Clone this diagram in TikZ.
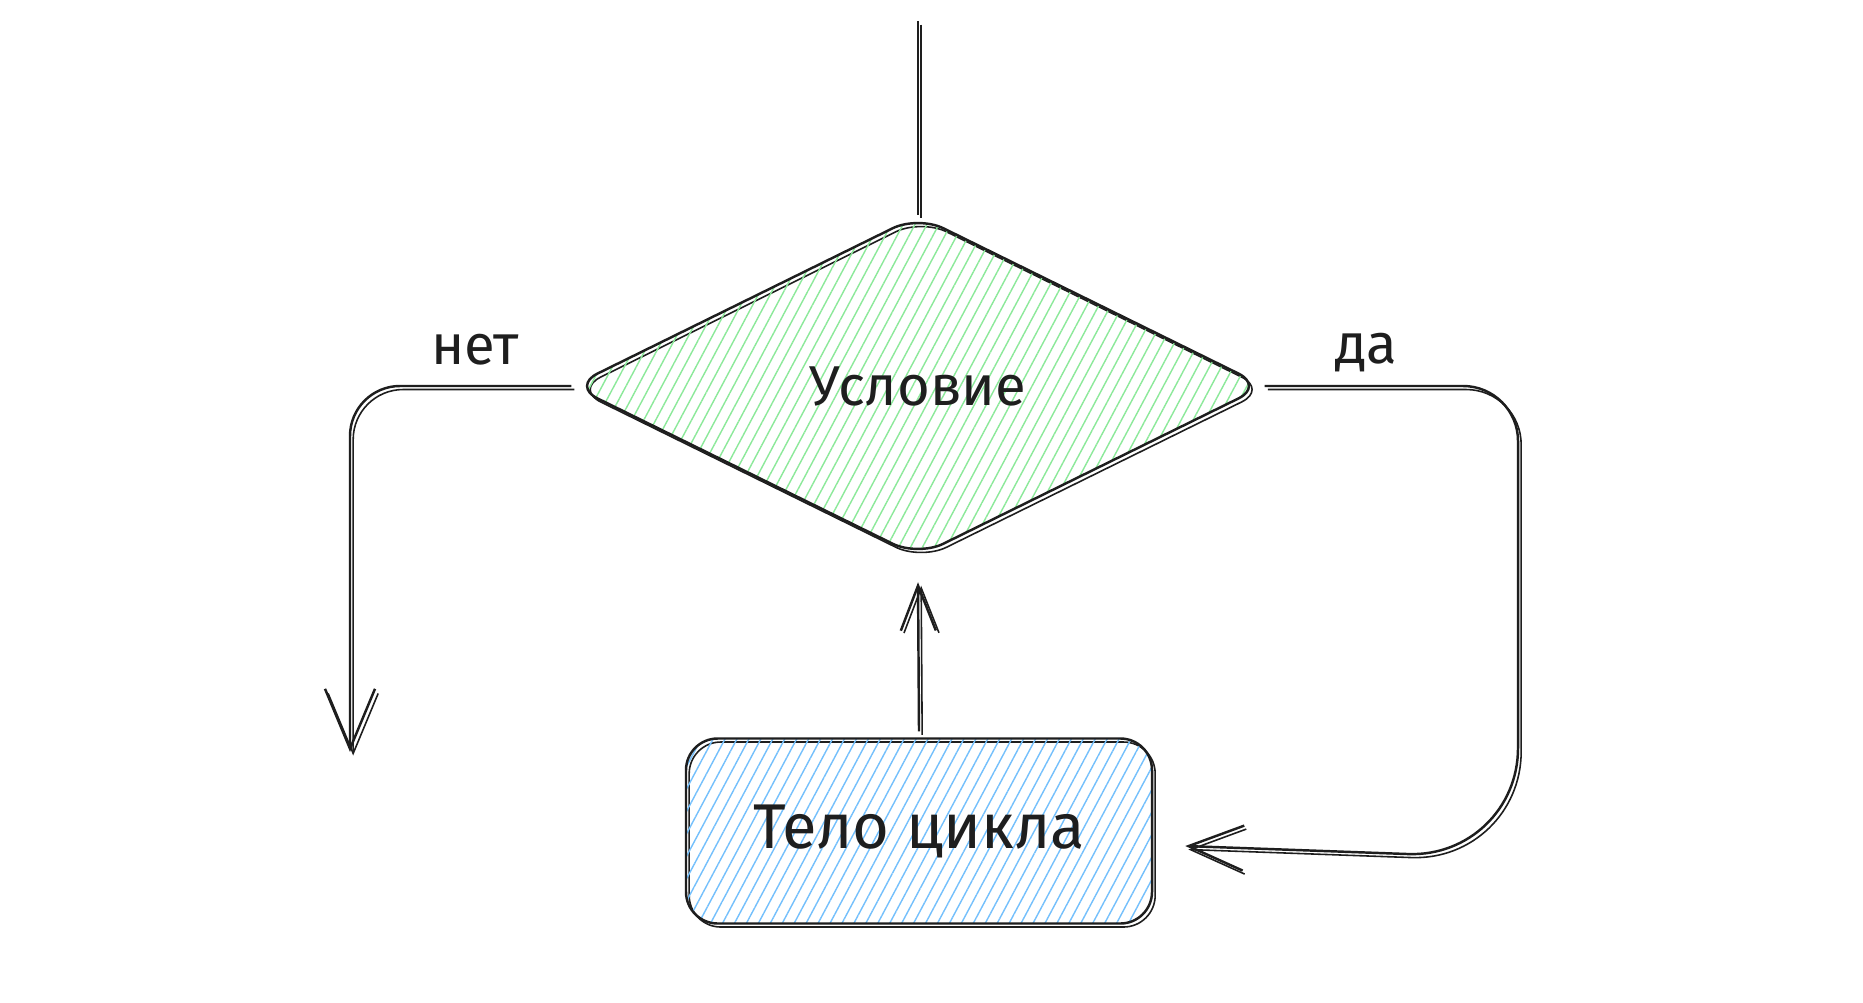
\documentclass[tikz,border=0pt]{standalone}
\usepackage{fontspec}
\setmainfont{Fira Sans}
\usetikzlibrary{shapes.geometric,arrows.meta,patterns.meta,positioning}
\definecolor{tratto}{HTML}{1E1E1E}
\definecolor{verde}{HTML}{8CE99A}
\definecolor{azzurro}{HTML}{74C0FC}
\tikzset{
    schizzo/.style={draw=tratto, line width=0.7pt,
        preaction={draw=tratto, line width=0.45pt, transform canvas={xshift=0.9pt,yshift=-1pt}}},
    freccia/.style={schizzo, -{Straight Barb[#1]}},
    freccia/.default={length=5.5mm,width=4.5mm},
    etichetta/.style={text=tratto, font=\fontsize{16}{19}\selectfont},
    tratteggio/.style={pattern={Lines[angle=62,distance=3pt,line width=0.4pt]}, pattern color=#1},
}
\begin{document}
\begin{tikzpicture}
         % Sfondo
        \fill[white] (0,0) rectangle (18.63,-10.02);
        \useasboundingbox (0,0) rectangle (18.63,-10.02);

         % Blocchi
        \node[diamond, schizzo, tratteggio=verde, rounded corners=8pt, inner sep=0pt,
              minimum width=6.92cm, minimum height=3.41cm, etichetta] (cond) at (9.18,-3.86) {Условие};
        \node[rectangle, schizzo, tratteggio=azzurro, rounded corners=9pt,
              minimum width=4.66cm, minimum height=1.85cm, etichetta, font=\fontsize{18}{21}\selectfont] (body) at (9.19,-8.31) {Тело цикла};

         % Punti liberi
        \coordinate (top) at (9.18,-0.21);
        \coordinate (noend) at (3.50,-7.52);
        \coordinate (giro) at (15.18,-8.58);

         % Collegamenti
        \draw[schizzo] (top) -- (cond.north);
        \draw[freccia={length=6mm,width=5mm}, rounded corners=0.5cm] (cond.west) -- (noend |- cond.west) -- (noend);
        \draw[freccia, rounded corners=0.55cm] (cond.east) -- (giro |- cond.east) [rounded corners=1.1cm] -- (giro) -- ([xshift=3.2mm,yshift=-1.5mm]body.east);
        \draw[freccia={length=4.5mm,width=3.5mm}] ([yshift=0.6mm]body.north) -- ([yshift=-2.5mm]cond.south);

         % Etichette
        \node[etichetta] (lblno) at (4.75,-3.50) {нет};
        \node[etichetta] (lblyes) at (13.66,-3.53) {да};
    \end{tikzpicture}
\end{document}
